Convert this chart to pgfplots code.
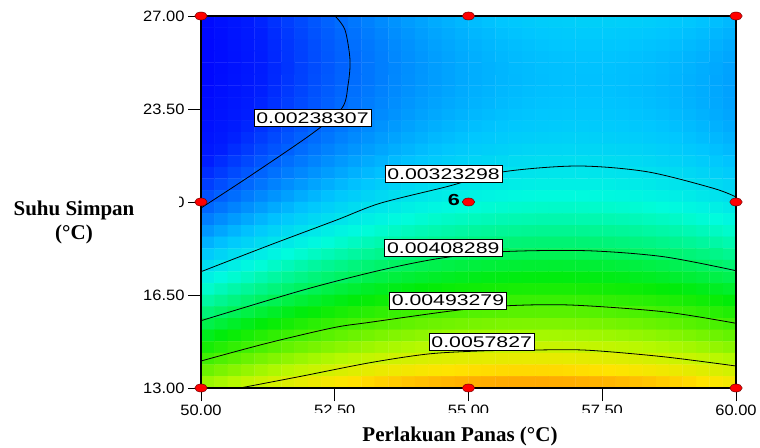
\documentclass[border=0pt]{standalone}
\usepackage{fontspec}
\setmainfont{Liberation Sans}
\newfontfamily\serifb{Liberation Serif}
\usepackage{graphicx}
\usepackage{pgfplots}
\usepgfplotslibrary{patchplots}
\pgfplotsset{compat=1.18}
\newcommand{\tl}[1]{\scalebox{1.1}[1]{#1}}
\newcommand{\cl}[1]{\scalebox{1.38}[1]{#1}}
\begin{document}
\begin{tikzpicture}[x=1pt,y=1pt,
  lab/.style={draw=black, fill=white, line width=0.6pt, inner xsep=2.5pt, inner ysep=0pt, minimum height=17pt, font=\fontsize{15.4}{15.4}\selectfont}]
\useasboundingbox (0,0) rectangle (760,447);
\begin{axis}[
  view={0}{90},
  at={(201pt,59pt)}, anchor=south west,
  scale only axis, width=535pt, height=372pt,
  xmin=50, xmax=60, ymin=13, ymax=27, zmin=0, zmax=10,
  clip=false,
  axis line style={line width=1.1pt},
  tick align=outside, major tick length=13pt,
  tick style={black, line width=0.8pt},
  xtick pos=left, ytick pos=left, ztick=\empty,
  xtick={50,52.5,55,57.5,60},
  xticklabels={\tl{50.00},\tl{52.50},\tl{55.00},\tl{57.50},\tl{60.00}},
  ytick={13,16.5,20,23.5,27},
  yticklabels={\tl{13.00},\tl{16.50},\tl{20.00},\tl{23.50},\tl{27.00}},
  ticklabel style={font=\fontsize{15}{15}\selectfont},
  colormap={de}{rgb255(0cm)=(0,0,255); rgb255(1cm)=(0,29,255); rgb255(2cm)=(0,113,255); rgb255(3cm)=(0,198,255); rgb255(4cm)=(0,252,221); rgb255(5cm)=(0,244,114); rgb255(6cm)=(0,236,7); rgb255(7cm)=(89,242,0); rgb255(8cm)=(183,249,0); rgb255(9cm)=(255,228,0); rgb255(10cm)=(255,128,0)},
  point meta min=1.35, point meta max=6.70,
]
% response surface (x10^-3), biquadratic patches: 4 corners, 4 edge midpoints, centre
\addplot3[patch, patch type=biquadratic, patch refines=3, shader=flat, point meta=\thisrow{R}] table[x=x, y=y, z=R] {
x y R
50 13 5.558
52 13 6.133
52 16.5 4.249
50 16.5 3.635
51 13 5.874
52 14.75 5.126
51 16.5 3.971
50 14.75 4.531
51 14.75 4.857
52 13 6.133
54 13 6.482
54 16.5 4.637
52 16.5 4.249
53 13 6.336
54 14.75 5.494
53 16.5 4.471
52 14.75 5.126
53 14.75 5.339
54 13 6.482
56 13 6.605
56 16.5 4.798
54 16.5 4.637
55 13 6.572
56 14.75 5.636
55 16.5 4.746
54 14.75 5.494
55 14.75 5.594
56 13 6.605
58 13 6.501
58 16.5 4.733
56 16.5 4.798
57 13 6.581
58 14.75 5.552
57 16.5 4.794
56 14.75 5.636
57 14.75 5.623
58 13 6.501
60 13 6.171
60 16.5 4.442
58 16.5 4.733
59 13 6.365
60 14.75 5.242
59 16.5 4.616
58 14.75 5.552
59 14.75 5.425
50 16.5 3.635
52 16.5 4.249
52 20 2.886
50 20 2.233
51 16.5 3.971
52 18.25 3.503
51 20 2.588
50 18.25 2.869
51 18.25 3.214
52 16.5 4.249
54 16.5 4.637
54 20 3.312
52 20 2.886
53 16.5 4.471
54 18.25 3.909
53 20 3.127
52 18.25 3.503
53 18.25 3.734
54 16.5 4.637
56 16.5 4.798
56 20 3.512
54 20 3.312
55 16.5 4.746
56 18.25 4.090
55 20 3.440
54 18.25 3.909
55 18.25 4.028
56 16.5 4.798
58 16.5 4.733
58 20 3.486
56 20 3.512
57 16.5 4.794
58 18.25 4.044
57 20 3.527
56 18.25 4.090
57 18.25 4.096
58 16.5 4.733
60 16.5 4.442
60 20 3.233
58 20 3.486
59 16.5 4.616
60 18.25 3.772
59 20 3.388
58 18.25 4.044
59 18.25 3.937
50 20 2.233
52 20 2.886
52 23.5 2.224
50 23.5 1.533
51 20 2.588
52 21.75 2.463
51 23.5 1.906
50 21.75 1.792
51 21.75 2.156
52 20 2.886
54 20 3.312
54 23.5 2.688
52 23.5 2.224
53 20 3.127
54 21.75 2.909
53 23.5 2.484
52 21.75 2.463
53 21.75 2.714
54 20 3.312
56 20 3.512
56 23.5 2.927
54 23.5 2.688
55 20 3.440
56 21.75 3.128
55 23.5 2.836
54 21.75 2.909
55 21.75 3.047
56 20 3.512
58 20 3.486
58 23.5 2.939
56 23.5 2.927
57 20 3.527
58 21.75 3.121
57 23.5 2.961
56 21.75 3.128
57 21.75 3.153
58 20 3.486
60 20 3.233
60 23.5 2.725
58 23.5 2.939
59 20 3.388
60 21.75 2.888
59 23.5 2.860
58 21.75 3.121
59 21.75 3.033
50 23.5 1.533
52 23.5 2.224
52 27 2.231
50 27 1.502
51 23.5 1.906
52 25.25 2.149
51 27 1.895
50 25.25 1.438
51 25.25 1.822
52 23.5 2.224
54 23.5 2.688
54 27 2.735
52 27 2.231
53 23.5 2.484
54 25.25 2.633
53 27 2.511
52 25.25 2.149
53 25.25 2.419
54 23.5 2.688
56 23.5 2.927
56 27 3.012
54 27 2.735
55 23.5 2.836
56 25.25 2.890
55 27 2.902
54 25.25 2.633
55 25.25 2.790
56 23.5 2.927
58 23.5 2.939
58 27 3.063
56 27 3.012
57 23.5 2.961
58 25.25 2.922
57 27 3.066
56 25.25 2.890
57 25.25 2.934
58 23.5 2.939
60 23.5 2.725
60 27 2.887
58 27 3.063
59 23.5 2.860
60 25.25 2.727
59 27 3.003
58 25.25 2.922
59 25.25 2.853
};
% contour lines
\addplot3[black, line width=0.8pt, smooth] coordinates {(50,19.774,8) (50.916,20.979,8) (52.093,22.597,8) (52.636,23.538,8) (52.748,24.40,8) (52.785,25.345,8) (52.692,26.474,8) (52.505,27.0,8)};
\addplot3[black, line width=0.8pt, smooth] coordinates {(50,17.377,8) (51.290,18.382,8) (52.536,19.323,8) (53.346,19.951,8) (54.593,20.576,8) (55.626,21.129,8) (57.028,21.355,8) (58.331,21.141,8) (59.576,20.516,8) (60,20.188,8)};
\addplot3[black, line width=0.8pt, smooth] coordinates {(50,15.533,8) (51.912,16.688,8) (53.346,17.429,8) (54.467,17.881,8) (55.632,18.130,8) (57.209,18.167,8) (58.641,17.942,8) (60,17.415,8)};
\addplot3[black, line width=0.8pt, smooth] coordinates {(50,14.016,8) (51.228,14.682,8) (52.473,15.269,8) (53.159,15.473,8) (54.716,15.909,8) (55.714,16.094,8) (56.897,16.124,8) (58.636,15.872,8) (60,15.435,8)};
\addplot3[black, line width=0.8pt, smooth] coordinates {(50.729,13.0,8) (51.850,13.433,8) (53.159,13.952,8) (54.243,14.280,8) (55.215,14.393,8) (56.243,14.430,8) (57.215,14.423,8) (58.636,14.178,8) (60,13.828,8)};
% frame
\draw[line width=1.1pt] (rel axis cs:0,0,1) -- (rel axis cs:1,0,1) -- (rel axis cs:1,1,1) -- (rel axis cs:0,1,1) -- cycle;
% contour labels
\node[lab] at (axis cs:52.084,23.150,9) {\cl{0.00238307}};
\node[lab] at (axis cs:54.533,21.047,9) {\cl{0.00323298}};
\node[lab] at (axis cs:54.529,18.258,9) {\cl{0.00408289}};
\node[lab] at (axis cs:54.617,16.293,9) {\cl{0.00493279}};
\node[lab] at (axis cs:55.247,14.739,9) {\cl{0.0057827}};
% design points
\addplot3[only marks, mark=*, mark size=4pt, mark options={fill=red, draw=red!45!black, line width=0.5pt, xscale=1.55}] coordinates {(50,13,10) (55,13,10) (60,13,10) (50,20,10) (55,20,10) (60,20,10) (50,27,10) (55,27,10) (60,27,10)};
\node[anchor=east, font=\fontsize{16}{16}\selectfont\bfseries, xshift=-5pt, yshift=2pt] at (axis cs:55,20,10) {\scalebox{1.35}[1]{6}};
\end{axis}
\fill[white] (118,239) rectangle (178.5,252);
\fill[white] (228,26) rectangle (712,34);
\node[anchor=base, font=\fontsize{21}{21}\selectfont\serifb\bfseries] at (74,231) {Suhu Simpan};
\node[anchor=base, font=\fontsize{21}{21}\selectfont\serifb\bfseries] at (74,207) {(°C)};
\node[anchor=base, font=\fontsize{21}{21}\selectfont\serifb\bfseries] at (460,5.3) {Perlakuan Panas (°C)};
\end{tikzpicture}
\end{document}
